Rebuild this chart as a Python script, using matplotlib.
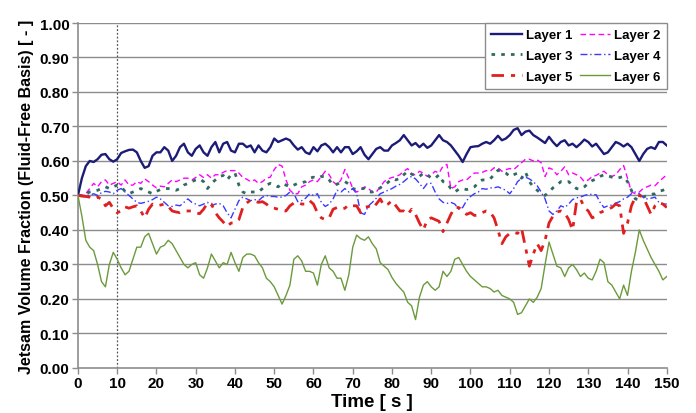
import matplotlib
matplotlib.use("Agg")
import matplotlib.pyplot as plt

plt.rcParams['font.family'] = ['Liberation Sans', 'DejaVu Sans']
plt.rcParams['font.weight'] = 'bold'

# sample times, one per second
time_s = list(range(0, 151))

layer1 = [
    0.50, 0.55, 0.585, 0.60, 0.597, 0.605, 0.618, 0.62, 0.605, 0.598,
    0.605, 0.623, 0.628, 0.632, 0.633, 0.625, 0.60, 0.58, 0.585, 0.615,
    0.625, 0.625, 0.64, 0.63, 0.60, 0.615, 0.64, 0.65, 0.625, 0.615,
    0.635, 0.645, 0.625, 0.615, 0.64, 0.655, 0.625, 0.65, 0.655, 0.63,
    0.625, 0.65, 0.65, 0.64, 0.645, 0.625, 0.645, 0.63, 0.625, 0.64,
    0.665, 0.655, 0.66, 0.665, 0.66, 0.645, 0.633, 0.64, 0.625, 0.62,
    0.64, 0.628, 0.645, 0.65, 0.64, 0.625, 0.64, 0.625, 0.64, 0.64,
    0.62, 0.628, 0.64, 0.618, 0.605, 0.62, 0.635, 0.64, 0.63, 0.63,
    0.645, 0.652, 0.66, 0.675, 0.66, 0.645, 0.652, 0.64, 0.65, 0.638,
    0.645, 0.66, 0.675, 0.66, 0.655, 0.645, 0.63, 0.615, 0.597, 0.62,
    0.64, 0.642, 0.643, 0.65, 0.655, 0.65, 0.66, 0.673, 0.66, 0.665,
    0.675, 0.69, 0.695, 0.675, 0.685, 0.688, 0.675, 0.668, 0.66, 0.652,
    0.67, 0.655, 0.643, 0.655, 0.66, 0.645, 0.65, 0.64, 0.65, 0.662,
    0.655, 0.642, 0.65, 0.635, 0.62, 0.625, 0.64, 0.655, 0.65, 0.642,
    0.65, 0.64, 0.62, 0.60, 0.62, 0.635, 0.64, 0.635, 0.655, 0.655,
    0.645,
]

layer2 = [
    0.50, 0.50, 0.505, 0.52, 0.535, 0.525, 0.54, 0.545, 0.53, 0.535,
    0.54, 0.53, 0.545, 0.53, 0.53, 0.54, 0.535, 0.548, 0.54, 0.53,
    0.522, 0.527, 0.525, 0.535, 0.545, 0.54, 0.545, 0.55, 0.55, 0.545,
    0.552, 0.56, 0.552, 0.56, 0.55, 0.56, 0.56, 0.567, 0.572, 0.572,
    0.572, 0.565, 0.552, 0.547, 0.54, 0.545, 0.535, 0.54, 0.55, 0.553,
    0.575, 0.59, 0.585, 0.545, 0.515, 0.505, 0.505, 0.525, 0.53, 0.54,
    0.545, 0.54, 0.555, 0.57, 0.56, 0.54, 0.53, 0.545, 0.575, 0.55,
    0.52, 0.51, 0.515, 0.525, 0.52, 0.51, 0.51, 0.525, 0.54, 0.548,
    0.552, 0.555, 0.56, 0.57, 0.578, 0.56, 0.56, 0.57, 0.565, 0.555,
    0.56, 0.57, 0.565, 0.585, 0.59, 0.52, 0.525, 0.54, 0.545, 0.545,
    0.555, 0.565, 0.565, 0.567, 0.572, 0.57, 0.58, 0.58, 0.57, 0.575,
    0.578, 0.575, 0.585, 0.595, 0.605, 0.605, 0.60, 0.603, 0.595, 0.555,
    0.58, 0.575, 0.56, 0.57, 0.583, 0.56, 0.565, 0.56, 0.553, 0.54,
    0.545, 0.555, 0.558, 0.565, 0.57, 0.56, 0.555, 0.56, 0.575, 0.587,
    0.55, 0.51, 0.505, 0.51, 0.52, 0.525, 0.53, 0.528, 0.54, 0.55,
    0.56,
]

layer3 = [
    0.50, 0.50, 0.505, 0.51, 0.512, 0.515, 0.52, 0.525, 0.52, 0.525,
    0.53, 0.525, 0.512, 0.505, 0.51, 0.515, 0.52, 0.515, 0.51, 0.505,
    0.512, 0.517, 0.52, 0.52, 0.518, 0.515, 0.52, 0.53, 0.535, 0.54,
    0.545, 0.548, 0.54, 0.52, 0.535, 0.545, 0.555, 0.558, 0.545, 0.56,
    0.565, 0.53, 0.51, 0.505, 0.51, 0.51, 0.51, 0.52, 0.53, 0.535,
    0.53, 0.525, 0.535, 0.53, 0.525, 0.53, 0.535, 0.537, 0.54, 0.55,
    0.553, 0.55, 0.555, 0.555, 0.545, 0.53, 0.533, 0.537, 0.54, 0.533,
    0.52, 0.517, 0.52, 0.52, 0.51, 0.51, 0.515, 0.522, 0.53, 0.538,
    0.548, 0.545, 0.55, 0.56, 0.57, 0.562, 0.558, 0.555, 0.565, 0.56,
    0.55, 0.55, 0.56, 0.54, 0.535, 0.52, 0.51, 0.518, 0.52, 0.517,
    0.52, 0.525, 0.537, 0.545, 0.545, 0.548, 0.56, 0.573, 0.57, 0.565,
    0.555, 0.56, 0.565, 0.55, 0.568, 0.54, 0.525, 0.515, 0.505, 0.50,
    0.51, 0.522, 0.53, 0.54, 0.538, 0.54, 0.53, 0.52, 0.518, 0.525,
    0.535, 0.543, 0.548, 0.555, 0.56, 0.557, 0.553, 0.55, 0.552, 0.555,
    0.54, 0.515, 0.49, 0.487, 0.495, 0.50, 0.503, 0.505, 0.512, 0.515,
    0.52,
]

layer4 = [
    0.50, 0.50, 0.50, 0.50, 0.505, 0.50, 0.508, 0.512, 0.51, 0.505,
    0.515, 0.52, 0.51, 0.50, 0.49, 0.48, 0.477, 0.48, 0.483, 0.488,
    0.495, 0.49, 0.48, 0.47, 0.468, 0.472, 0.47, 0.48, 0.49, 0.48,
    0.475, 0.47, 0.475, 0.48, 0.47, 0.475, 0.477, 0.47, 0.45, 0.435,
    0.46, 0.485, 0.495, 0.49, 0.485, 0.488, 0.485, 0.495, 0.50, 0.497,
    0.497, 0.495, 0.495, 0.50, 0.51, 0.505, 0.482, 0.485, 0.492, 0.505,
    0.50, 0.505, 0.48, 0.468, 0.475, 0.49, 0.515, 0.51, 0.52, 0.51,
    0.52, 0.505, 0.45, 0.445, 0.47, 0.48, 0.492, 0.505, 0.51, 0.515,
    0.52, 0.527, 0.532, 0.54, 0.55, 0.555, 0.548, 0.535, 0.52, 0.535,
    0.535, 0.51, 0.49, 0.48, 0.477, 0.48, 0.475, 0.46, 0.465, 0.485,
    0.497, 0.505, 0.51, 0.52, 0.518, 0.522, 0.522, 0.525, 0.52, 0.515,
    0.505, 0.52, 0.54, 0.55, 0.553, 0.548, 0.54, 0.528, 0.51, 0.49,
    0.455, 0.445, 0.455, 0.47, 0.465, 0.475, 0.488, 0.493, 0.495, 0.50,
    0.503, 0.503, 0.502, 0.48, 0.465, 0.47, 0.472, 0.478, 0.482, 0.49,
    0.495, 0.505, 0.51, 0.505, 0.495, 0.49, 0.492, 0.495, 0.48, 0.475,
    0.475,
]

layer5 = [
    0.50, 0.498, 0.497, 0.495, 0.49, 0.495, 0.49, 0.47, 0.48, 0.462,
    0.45, 0.455, 0.467, 0.463, 0.467, 0.47, 0.455, 0.435, 0.46, 0.475,
    0.47, 0.472, 0.475, 0.468, 0.455, 0.452, 0.45, 0.455, 0.455, 0.455,
    0.45, 0.447, 0.46, 0.478, 0.475, 0.45, 0.435, 0.423, 0.41, 0.42,
    0.42, 0.43, 0.465, 0.478, 0.487, 0.483, 0.48, 0.482, 0.475, 0.465,
    0.463, 0.46, 0.455, 0.455, 0.47, 0.478, 0.48, 0.475, 0.475, 0.485,
    0.475, 0.45, 0.435, 0.43, 0.435, 0.46, 0.465, 0.46, 0.463, 0.473,
    0.47, 0.47, 0.45, 0.465, 0.468, 0.463, 0.475, 0.49, 0.47, 0.475,
    0.485, 0.47, 0.455, 0.455, 0.445, 0.46, 0.445, 0.42, 0.40, 0.43,
    0.435, 0.43, 0.425, 0.395, 0.42, 0.445, 0.465, 0.465, 0.455, 0.445,
    0.45, 0.442, 0.443, 0.45, 0.455, 0.452, 0.435, 0.40, 0.36, 0.38,
    0.39, 0.393, 0.39, 0.405, 0.35, 0.295, 0.33, 0.36, 0.34, 0.37,
    0.42, 0.44, 0.452, 0.455, 0.45, 0.43, 0.40, 0.48, 0.49, 0.465,
    0.455, 0.435, 0.44, 0.45, 0.455, 0.46, 0.465, 0.475, 0.47, 0.39,
    0.42, 0.47, 0.495, 0.50, 0.495, 0.47, 0.445, 0.47, 0.48, 0.475,
    0.465,
]

layer6 = [
    0.50, 0.44, 0.37, 0.35, 0.34, 0.30, 0.25, 0.235, 0.30, 0.335,
    0.315, 0.29, 0.27, 0.28, 0.315, 0.35, 0.35, 0.38, 0.39, 0.36,
    0.33, 0.35, 0.355, 0.37, 0.36, 0.34, 0.32, 0.30, 0.29, 0.30,
    0.305, 0.27, 0.26, 0.29, 0.33, 0.31, 0.29, 0.305, 0.30, 0.335,
    0.305, 0.28, 0.32, 0.33, 0.33, 0.325, 0.305, 0.29, 0.26, 0.25,
    0.235, 0.21, 0.185, 0.21, 0.24, 0.315, 0.325, 0.31, 0.28, 0.28,
    0.275, 0.24, 0.30, 0.325, 0.29, 0.28, 0.26, 0.26, 0.225, 0.27,
    0.35, 0.385, 0.375, 0.37, 0.38, 0.36, 0.345, 0.305, 0.295, 0.285,
    0.262, 0.245, 0.232, 0.22, 0.19, 0.18, 0.14, 0.205, 0.24, 0.25,
    0.235, 0.225, 0.235, 0.28, 0.265, 0.28, 0.315, 0.32, 0.30, 0.28,
    0.265, 0.255, 0.245, 0.235, 0.235, 0.23, 0.22, 0.225, 0.21, 0.205,
    0.20, 0.19, 0.155, 0.16, 0.18, 0.20, 0.19, 0.205, 0.23, 0.30,
    0.365, 0.33, 0.295, 0.29, 0.265, 0.29, 0.30, 0.285, 0.265, 0.275,
    0.26, 0.255, 0.28, 0.315, 0.305, 0.25, 0.24, 0.22, 0.20, 0.24,
    0.21, 0.28, 0.335, 0.40, 0.37, 0.345, 0.32, 0.30, 0.28, 0.255,
    0.265,
]

labels = ['Layer 1', 'Layer 2', 'Layer 3', 'Layer 4', 'Layer 5', 'Layer 6']
start_time = 10

fig = plt.figure(figsize=(6.96, 4.14), dpi=100)
ax = fig.add_axes([0.112, 0.109, 0.846, 0.833])

for yv in [0.1, 0.2, 0.3, 0.4, 0.5, 0.6, 0.7, 0.8, 0.9, 1.0]:
    ax.axhline(yv, color='#8c8c8c', lw=1.0, zorder=1)
ax.axvline(start_time, color='#555555', lw=0.9, ls=(0, (1.5, 1.5)), zorder=1)

h1, = ax.plot(time_s, layer1, color='#1c1c78', lw=1.7, zorder=3)
h2, = ax.plot(time_s, layer2, color='#ff00ff', lw=1.0, ls=(0, (4, 2.5)), zorder=3)
h3, = ax.plot(time_s, layer3, color='#2f6b60', lw=2.0, ls=(0, (1.3, 2.2)), zorder=3)
h4, = ax.plot(time_s, layer4, color='#3a3aff', lw=1.0, ls=(0, (5, 2, 1, 2)), zorder=3)
h5, = ax.plot(time_s, layer5, color='#e02020', lw=2.0, ls=(0, (4.5, 2.5, 1.5, 2.5)), zorder=3)
h6, = ax.plot(time_s, layer6, color='#6b9a3c', lw=1.0, zorder=3)

ax.set_xlim(0, 150)
ax.set_ylim(0, 1.0)
ax.set_xticks(range(0, 151, 10))
ax.set_yticks([i / 10 for i in range(11)])
ax.set_yticklabels([f'{i / 10:.2f}' for i in range(11)])

for s in ['top', 'right']:
    ax.spines[s].set_visible(False)
for s in ['left', 'bottom']:
    ax.spines[s].set_color('#8c8c8c')
    ax.spines[s].set_linewidth(1.2)
ax.tick_params(axis='both', colors='#8c8c8c', labelcolor='black', labelsize=11,
               length=4, width=1.0, direction='out', pad=2)

ax.set_xlabel('Time [ s ]', fontsize=13.5, fontweight='bold', labelpad=2)
ax.set_ylabel('Jetsam Volume Fraction (Fluid-Free Basis) [ - ]', fontsize=11.5,
              fontweight='bold', labelpad=4)

hs = [h1, h3, h5, h2, h4, h6]
ls = [labels[0], labels[2], labels[4], labels[1], labels[3], labels[5]]
leg = ax.legend(hs, ls, ncol=2, loc='upper right', bbox_to_anchor=(1.0, 1.0),
                fontsize=9.5, frameon=True, fancybox=False, borderpad=0.45,
                handlelength=2.3, handletextpad=0.3, columnspacing=0.6,
                labelspacing=0.65, borderaxespad=0)
leg.get_frame().set_edgecolor('#8c8c8c')
leg.get_frame().set_linewidth(1.0)
leg.get_frame().set_alpha(1.0)
leg.set_zorder(5)

fig.savefig('out.png', dpi=100, facecolor='white')
